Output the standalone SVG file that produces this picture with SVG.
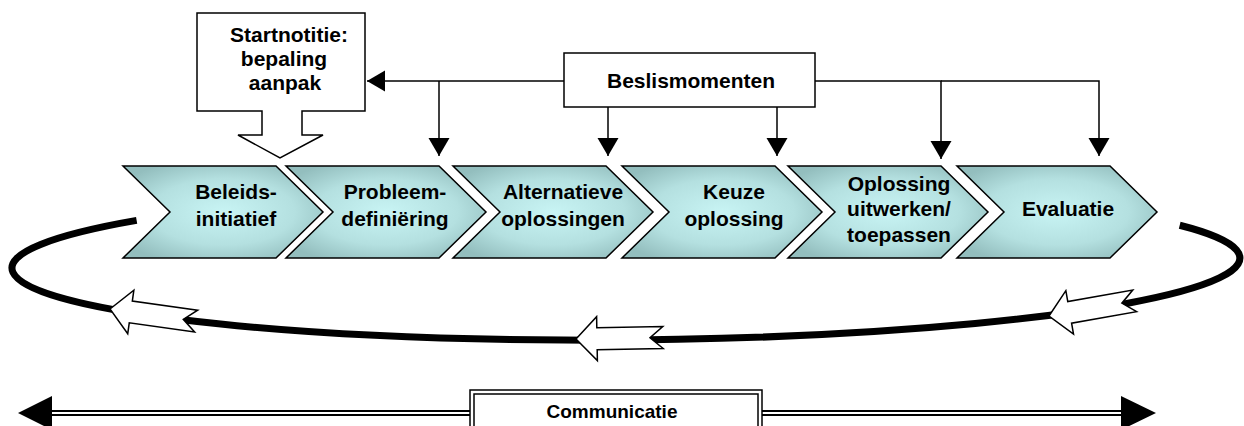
<svg xmlns="http://www.w3.org/2000/svg" width="1244" height="426" viewBox="0 0 1244 426">
  <defs>
    <radialGradient id="chevFill" cx="50%" cy="50%" r="60%">
      <stop offset="0%" stop-color="#c8f4f4"/>
      <stop offset="60%" stop-color="#b4e0e0"/>
      <stop offset="100%" stop-color="#93bebe"/>
    </radialGradient>
    <marker id="tri" markerUnits="userSpaceOnUse" markerWidth="20" markerHeight="22" refX="18" refY="10.5" orient="auto">
      <path d="M0,0 L18,10.5 L0,21 Z" fill="#000"/>
    </marker>
    <path id="hollowArrow" d="M0,0 L21,-22 L21,-11 L87,-11 L74,0 L87,11 L21,11 L21,22 Z"/>
  </defs>
  <style>
    .txt { font-family: "Liberation Sans", Arial, sans-serif; font-weight: bold; font-size: 21px; fill: #000; text-anchor: middle; }
    .chev { fill: url(#chevFill); stroke: #000; stroke-width: 1.5; stroke-linejoin: miter; }
    .box { fill: #fff; stroke: #000; stroke-width: 1.5; }
    .conn { fill: none; stroke: #000; stroke-width: 1.5; }
    .hollow { fill: #fff; stroke: #000; stroke-width: 1.5; stroke-linejoin: miter; }
  </style>
  <rect width="1244" height="426" fill="#fff"/>

  <!-- cycle loop -->
  <g id="cycle">
    <path transform="rotate(-0.47 626 263)" d="M137,216.4 A614,77 0 1 0 1180,229.8" fill="none" stroke="#000" stroke-width="7"/>
    <use href="#hollowArrow" class="hollow" transform="translate(110,309) rotate(8)"/>
    <use href="#hollowArrow" class="hollow" transform="translate(576,339) rotate(-1)"/>
    <use href="#hollowArrow" class="hollow" transform="translate(1049,316) rotate(-10)"/>
  </g>

  <!-- connectors -->
  <g id="connectors">
    <path class="conn" d="M564,81 H367" marker-end="url(#tri)"/>
    <path class="conn" d="M439,81 V156" marker-end="url(#tri)"/>
    <path class="conn" d="M608,107 V156" marker-end="url(#tri)"/>
    <path class="conn" d="M777,107 V156" marker-end="url(#tri)"/>
    <path class="conn" d="M815,81 H941 V159" marker-end="url(#tri)"/>
    <path class="conn" d="M941,81 H1099 V156" marker-end="url(#tri)"/>
    <!-- communication double arrow -->
    <line x1="50" y1="413" x2="1122" y2="413" stroke="#000" stroke-width="6"/>
    <line x1="50" y1="413" x2="1122" y2="413" stroke="#fff" stroke-width="2"/>
    <polygon points="18,413 52,396 52,430" fill="#000"/>
    <polygon points="1156,413 1121,396 1121,430" fill="#000"/>
  </g>

  <!-- Startnotitie callout -->
  <g id="startnotitie">
    <path class="box" d="M197,13 H365 V111 H302 V135 H323 L280,158 L238,135 H262 V111 H197 Z"/>
    <text class="txt" x="289" y="42">Startnotitie:</text>
    <text class="txt" x="284" y="66">bepaling</text>
    <text class="txt" x="285" y="90">aanpak</text>
  </g>

  <!-- Beslismomenten -->
  <g id="beslismomenten">
    <rect class="box" x="564" y="53" width="251" height="54"/>
    <text class="txt" x="691" y="88">Beslismomenten</text>
  </g>

  <!-- chevrons -->
  <g id="beleidsinitiatief">
    <path class="chev" d="M123,166 H276 L323,212 L276,258 H123 L170,212 Z"/>
    <text class="txt" x="236" y="199">Beleids-</text>
    <text class="txt" x="236" y="226">initiatief</text>
  </g>
  <g id="probleemdefiniering">
    <path class="chev" d="M286,166 H439 L486,212 L439,258 H286 L333,212 Z"/>
    <text class="txt" x="395" y="199">Probleem-</text>
    <text class="txt" x="395" y="226">definiëring</text>
  </g>
  <g id="alternatieve-oplossingen">
    <path class="chev" d="M453,166 H606 L653,212 L606,258 H453 L500,212 Z"/>
    <text class="txt" x="563" y="199">Alternatieve</text>
    <text class="txt" x="563" y="226">oplossingen</text>
  </g>
  <g id="keuze-oplossing">
    <path class="chev" d="M622,166 H775 L822,212 L775,258 H622 L669,212 Z"/>
    <text class="txt" x="734" y="199">Keuze</text>
    <text class="txt" x="734" y="226">oplossing</text>
  </g>
  <g id="oplossing-uitwerken">
    <path class="chev" d="M788,166 H941 L988,212 L941,258 H788 L835,212 Z"/>
    <text class="txt" x="899" y="191">Oplossing</text>
    <text class="txt" x="899" y="216">uitwerken/</text>
    <text class="txt" x="899" y="242">toepassen</text>
  </g>
  <g id="evaluatie">
    <path class="chev" d="M957,166 H1110 L1157,212 L1110,258 H957 L1004,212 Z"/>
    <text class="txt" x="1068" y="216">Evaluatie</text>
  </g>

  <!-- Communicatie -->
  <g id="communicatie">
    <rect class="box" x="470" y="390" width="292" height="50"/>
    <rect class="box" x="474" y="394" width="284" height="46"/>
    <text class="txt" x="612" y="418" style="font-size:19px">Communicatie</text>
  </g>
</svg>
